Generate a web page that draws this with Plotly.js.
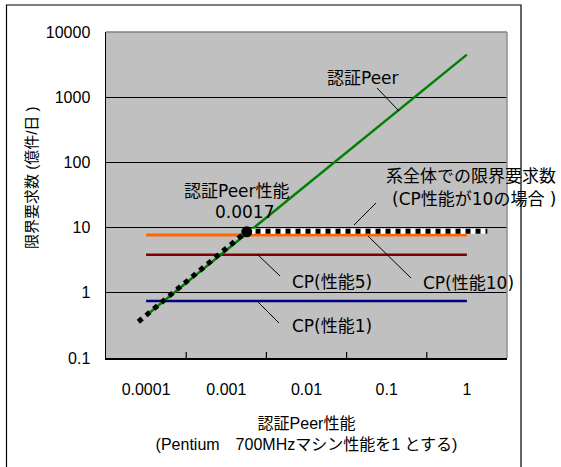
<!DOCTYPE html>
<html>
<head>
<meta charset="utf-8">
<script src="https://cdn.plot.ly/plotly-3.0.1.min.js"></script>
<style>html,body{margin:0;padding:0;background:#fff;}#chart{width:561px;height:467px;}</style>
</head>
<body>
<div id="chart"></div>
<script>
// ---- data ----
const peerPerf = [0.0001, 0.001, 0.01, 0.1, 1];
const tickLabels = ['0.0001', '0.001', '0.01', '0.1', '1'];
const yTickVals = [0.1, 1, 10, 100, 1000, 10000];
const yTickLabels = ['0.1', '1', '10', '100', '1000', '10000'];
const peerLimit = [0.45, 4.5, 45, 450, 4500];
const cp10Limit = [7.7, 7.7, 7.7, 7.7, 7.7];
const cp5Limit = [3.85, 3.85, 3.85, 3.85, 3.85];
const cp1Limit = [0.75, 0.75, 0.75, 0.75, 0.75];
const systemX = [0.00008, 0.0018, 1.8];
const systemY = [0.36, 8.8, 8.8];
const systemFlatX = [0.0018, 1.8];
const systemFlatY = [8.8, 8.8];
const breakX = [0.0018];
const breakY = [8.6];

// ---- layout helpers (pixel -> paper) ----
const L = 106, R = 507, T = 32, B = 358;
const W = 561, H = 467;
const px = x => (x - L) / (R - L);
const py = y => (B - y) / (B - T);
const FONT = 'Liberation Sans, Arial, Noto Sans CJK JP, sans-serif';
const LFONT = 'DejaVu Sans, Noto Sans CJK JP, sans-serif';

const line = (x, y, color, width, dash) => ({
  type: 'scatter', mode: 'lines', x: x, y: y,
  line: {color: color, width: width, dash: dash || 'solid'},
  hoverinfo: 'skip', showlegend: false
});

const traces = [
  line(peerPerf, cp1Limit, '#000080', 2.5),
  line(peerPerf, cp5Limit, '#800000', 2.5),
  line(peerPerf, cp10Limit, '#FF6600', 3),
  line(peerPerf, peerLimit, '#008000', 2.5),
  line(systemFlatX, systemFlatY, '#FFFFFF', 5),
  line(systemX, systemY, '#000000', 5, 'dot'),
  {type: 'scatter', mode: 'markers', x: breakX, y: breakY,
   marker: {color: '#000000', size: 11}, hoverinfo: 'skip', showlegend: false}
];

const xRange = [Math.log10(peerPerf[0]) - 0.5, Math.log10(peerPerf[peerPerf.length - 1]) + 0.5];
// category boundaries (half a decade between labels)
const boundaries = peerPerf.slice(0, -1).map(v => v * Math.sqrt(10));

function lbl(text, x, y, size) {
  return {text: text, xref: 'paper', yref: 'paper', x: px(x), y: py(y),
          xanchor: 'center', yanchor: 'middle', showarrow: false,
          font: {family: LFONT, size: size || 16, color: '#000'}};
}
function seg(x0, y0, x1, y1, color, width) {
  return {type: 'line', xref: 'paper', yref: 'paper', x0: px(x0), y0: py(y0),
          x1: px(x1), y1: py(y1), line: {color: color || '#000', width: width || 1}};
}
const boundaryTicks = boundaries.map(b => {
  const f = (Math.log10(b) - xRange[0]) / (xRange[1] - xRange[0]);
  return {type: 'line', xref: 'paper', yref: 'paper', x0: f, x1: f,
          y0: 0, y1: 6 / (B - T), line: {color: '#000', width: 1.2}};
});

const layout = {
  width: W, height: H,
  margin: {l: L, r: W - R, t: T, b: H - B},
  paper_bgcolor: '#FFFFFF',
  plot_bgcolor: '#C0C0C0',
  showlegend: false,
  font: {family: FONT, size: 16, color: '#000'},
  xaxis: {
    type: 'log', range: xRange,
    tickmode: 'array', tickvals: peerPerf, ticktext: tickLabels,
    ticks: 'outside', ticklen: 16, tickcolor: 'rgba(0,0,0,0)',
    showgrid: false, zeroline: false,
    showline: true, linecolor: '#000', linewidth: 1.5,
    tickfont: {family: FONT, size: 16, color: '#000'},
    title: {text: '認証Peer性能<br>(Pentium　700MHzマシン性能を1 とする)',
            font: {family: FONT, size: 16, color: '#000'}, standoff: 21}
  },
  yaxis: {
    type: 'log', range: [-1, 4],
    tickmode: 'array', tickvals: yTickVals, ticktext: yTickLabels,
    ticks: 'outside', ticklen: 11, tickcolor: 'rgba(0,0,0,0)',
    showgrid: true, gridcolor: '#000', gridwidth: 1, zeroline: false,
    showline: true, linecolor: '#000', linewidth: 1.5,
    tickfont: {family: FONT, size: 16, color: '#000'}
  },
  shapes: [
    // outer frame
    {type: 'rect', xref: 'paper', yref: 'paper', x0: px(6.5), x1: px(521), y0: py(480), y1: py(5),
     line: {color: '#000', width: 1.2}, fillcolor: 'rgba(0,0,0,0)'},
    // plot-area top and right border
    seg(L, T, R, T, '#808080', 1.5),
    seg(R, T, R, B, '#909090', 1.5),
    // leader lines
    seg(377, 88, 399, 111),
    seg(354, 225, 376, 203),
    seg(368, 236, 411, 278),
    seg(257, 254, 280, 276),
    seg(258, 302, 279, 323)
  ].concat(boundaryTicks),
  annotations: [
    lbl('認証Peer', 363, 78, 17),
    lbl('認証Peer性能', 237, 191, 17),
    lbl('0.0017', 244, 212, 17),
    lbl('系全体での限界要求数', 471, 176, 17),
    lbl('(CP性能が10の場合 )', 474, 199, 17),
    lbl('CP(性能5)', 332, 282, 17),
    lbl('CP(性能1)', 332, 326, 17),
    lbl('CP(性能10)', 468, 283, 17),
    {text: '限界要求数 (億件/日 )', xref: 'paper', yref: 'paper', x: px(31.5), y: py(177.5),
     xanchor: 'center', yanchor: 'middle', textangle: -90, showarrow: false,
     font: {family: FONT, size: 15, color: '#000'}}
  ]
};

Plotly.newPlot('chart', traces, layout, {staticPlot: true, displayModeBar: false});
</script>
</body>
</html>
